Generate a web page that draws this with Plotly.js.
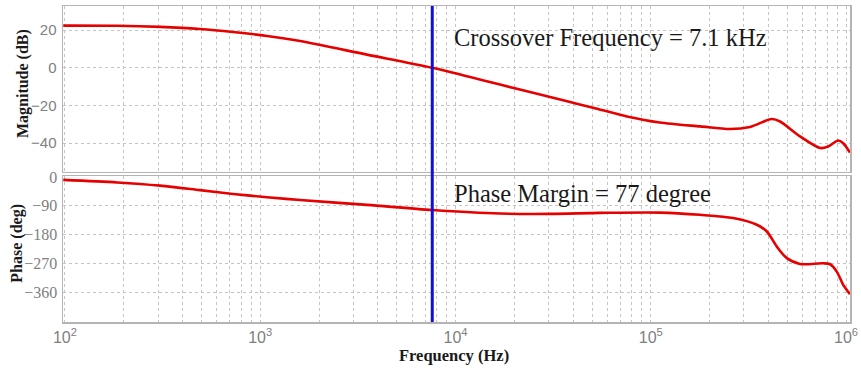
<!DOCTYPE html>
<html>
<head>
<meta charset="utf-8">
<script src="https://cdn.plot.ly/plotly-3.0.1.min.js"></script>
<style>html,body{margin:0;padding:0;background:#fff;}#chart{width:861px;height:370px;}</style>
</head>
<body>
<div id="chart"></div>
<script>
// Magnitude response (Hz, dB)
const magFreq = [98, 185, 307, 491, 725, 1083, 1600, 3520, 7600, 16900, 37300, 50600, 75500, 111000, 179000, 255000, 322000, 416000, 459000, 581000, 736000, 809000, 910000, 966000, 1047000];
const magDb   = [22.4, 22.3, 21.7, 20.6, 19.0, 16.9, 14.2, 7.0, 0, -8.9, -17.8, -21.2, -25.8, -29, -31.1, -32.5, -31.4, -27.2, -28.5, -36.4, -42.6, -41.8, -38.6, -40, -45];
// Phase response (Hz, deg)
const phaseFreq = [98, 185, 307, 491, 725, 1083, 1600, 3520, 7600, 16900, 30500, 55000, 111000, 179000, 264000, 349000, 393000, 442000, 497000, 581000, 762000, 828000, 896000, 968000, 1047000];
const phaseDeg  = [-9, -17, -27, -41, -53, -63, -72, -87, -103, -114, -115, -112, -111, -118, -128, -149, -170, -217, -253, -271, -269, -272, -295, -337, -365];
// Markers
const crossoverHz = 7600;
const crossoverLabel = "Crossover Frequency = 7.1 kHz";
const phaseMarginLabel = "Phase Margin = 77 degree";
// Ticks
const decades = [2, 3, 4, 5, 6];
const magTicks = [20, 0, -20, -40];
const phaseTicks = [0, -90, -180, -270, -360];

const xTickVals = [], xTickText = [];
decades.forEach(function (d) {
  for (let m = 1; m <= 9; m++) {
    if (d === 6 && m > 1) break;
    xTickVals.push(m * Math.pow(10, d));
    xTickText.push(m === 1 ? "10<sup>" + d + "</sup>" : "");
  }
});

const gridCol = "#c4c4c4";
const frameCol = "#b4b4b4";
const tickFontSans = {family: "Liberation Sans, Arial, sans-serif", size: 15, color: "#808080"};
const tickFontSerif = {family: "Liberation Serif, Times New Roman, serif", size: 16, color: "#808080"};
const serif = "Liberation Serif, Times New Roman, serif";

const xCommon = {
  type: "log", range: [1.99, 6.02],
  tickmode: "array", tickvals: xTickVals, ticktext: xTickText,
  showgrid: true, gridcolor: gridCol, griddash: "dot", gridwidth: 1,
  showline: true, mirror: true, linecolor: frameCol, linewidth: 1.5,
  ticks: "", zeroline: false
};

const traces = [
  {x: magFreq, y: magDb, xaxis: "x2", yaxis: "y", mode: "lines",
   line: {color: "#e60000", width: 2.6, shape: "spline", smoothing: 0.8}, hoverinfo: "skip"},
  {x: phaseFreq, y: phaseDeg, xaxis: "x", yaxis: "y2", mode: "lines",
   line: {color: "#e60000", width: 2.6, shape: "spline", smoothing: 0.8}, hoverinfo: "skip"}
];

const layout = {
  width: 861, height: 370,
  margin: {l: 63, r: 11, t: 6, b: 48},
  paper_bgcolor: "#fff", plot_bgcolor: "#fff",
  showlegend: false,
  xaxis: Object.assign({}, xCommon, {domain: [0, 1], anchor: "y2",
    tickfont: {family: "Liberation Sans, Arial, sans-serif", size: 16, color: "#808080"}, ticklabelstandoff: 0}),
  xaxis2: Object.assign({}, xCommon, {domain: [0, 1], anchor: "y", matches: "x", showticklabels: false}),
  yaxis: {domain: [0.4747, 1], anchor: "x2", range: [-55.3, 32.8],
    tickmode: "array", tickvals: magTicks, ticks: "", tickfont: tickFontSans,
    showgrid: true, gridcolor: gridCol, griddash: "dot", gridwidth: 1,
    showline: true, mirror: true, linecolor: frameCol, linewidth: 1.5, zeroline: false, ticklabelstandoff: 2},
  yaxis2: {domain: [0, 0.462], anchor: "x", range: [-452, 3],
    tickmode: "array", tickvals: phaseTicks, ticks: "", tickfont: tickFontSerif,
    showgrid: true, gridcolor: gridCol, griddash: "dot", gridwidth: 1,
    showline: true, mirror: true, linecolor: frameCol, linewidth: 1.5, zeroline: false, ticklabelstandoff: 1},
  shapes: [
    {type: "line", xref: "x", yref: "paper", x0: crossoverHz, x1: crossoverHz, y0: 0, y1: 1,
     line: {color: "#1010d8", width: 3}}
  ],
  annotations: [
    {text: crossoverLabel, xref: "paper", yref: "paper", x: 0.494, y: 0.899, xanchor: "left", yanchor: "middle",
     showarrow: false, font: {family: serif, size: 24.5, color: "#1a1a1a"}},
    {text: phaseMarginLabel, xref: "paper", yref: "paper", x: 0.494, y: 0.408, xanchor: "left", yanchor: "middle",
     showarrow: false, font: {family: serif, size: 24.5, color: "#1a1a1a"}},
    {text: "<b>Magnitude (dB)</b>", xref: "paper", yref: "paper", x: -0.05, y: 0.755, xanchor: "center", yanchor: "middle",
     textangle: -90, showarrow: false, font: {family: serif, size: 16, color: "#1a1a1a"}},
    {text: "<b>Phase (deg)</b>", xref: "paper", yref: "paper", x: -0.058, y: 0.249, xanchor: "center", yanchor: "middle",
     textangle: -90, showarrow: false, font: {family: serif, size: 16, color: "#1a1a1a"}},
    {text: "<b>Frequency (Hz)</b>", xref: "paper", yref: "paper", x: 0.497, y: -0.105, xanchor: "center", yanchor: "middle",
     showarrow: false, font: {family: serif, size: 16.5, color: "#1a1a1a"}}
  ]
};

Plotly.newPlot("chart", traces, layout, {staticPlot: true, displayModeBar: false});
</script>
</body>
</html>
